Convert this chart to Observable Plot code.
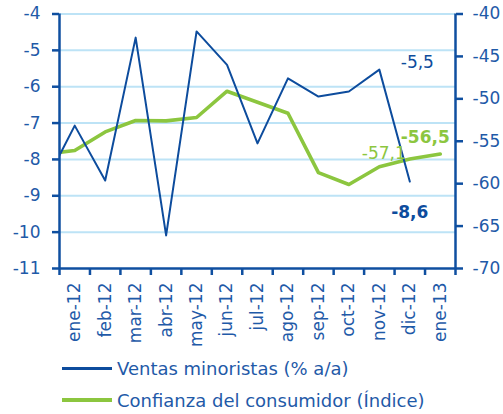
<!DOCTYPE html>
<html>
<head>
<meta charset="utf-8">
<script src="https://cdn.jsdelivr.net/npm/d3@7"></script>
<script src="https://cdn.jsdelivr.net/npm/@observablehq/plot@0.6"></script>
<style>
  html, body { margin: 0; padding: 0; background: #fff; }
  body { width: 503px; height: 414px; overflow: hidden; font-family: "DejaVu Sans", sans-serif; }
  #chart svg { display: block; }
  .legend { color: #1f5aa8; font-size: 18px; }
  .legend .row { height: 32px; display: flex; align-items: center; }
  .legend .sw { width: 50px; margin-left: 62px; margin-right: 5px; }
</style>
</head>
<body>
<div id="chart"></div>
<div class="legend" id="legend"></div>
<script>
// Categories (index -1 is the off-chart dic-11 point, clipped at the left axis)
const months = ["ene-12","feb-12","mar-12","abr-12","may-12","jun-12","jul-12","ago-12","sep-12","oct-12","nov-12","dic-12","ene-13"];
const index = [-1, 0, 1, 2, 3, 4, 5, 6, 7, 8, 9, 10, 11, 12];
// Ventas minoristas (% a/a), left axis
const ventas = [-8.7, -7.07, -8.58, -4.65, -10.09, -4.48, -5.40, -7.56, -5.77, -6.27, -6.13, -5.53, -8.61];
// Confianza del consumidor (Índice), right axis
const confianza = [-56.5, -56.1, -53.9, -52.55, -52.6, -52.2, -49.1, -50.4, -51.7, -58.7, -60.1, -58.0, -57.1, -56.5];
// Axis ticks
const leftTicks = [-11, -10, -9, -8, -7, -6, -5, -4];
const rightTicks = [-70, -65, -60, -55, -50, -45, -40];
const xDomain = [-0.5, 12.5];
const leftDomain = [-11, -4];
const rightDomain = [-70, -40];
// Data labels (i = month index)
const labelBlue = [{i: 10, v: -5.53, t: "-5,5", bold: false}, {i: 11, v: -8.61, t: "-8,6", bold: true}];
const labelGreen = [{i: 11, v: -57.1, t: "-57,1", bold: false}, {i: 12, v: -56.5, t: "-56,5", bold: true}];

const BLUE = "#0d4c9d";
const AXIS = "#0f4fa0";
const TEXT = "#1f5aa8";
const GREEN = "#8cc63f";
const GRID = "#bde3f6";

// map right-axis value to left-axis scale
const toLeft = v => leftDomain[0] + (v - rightDomain[0]) * (leftDomain[1] - leftDomain[0]) / (rightDomain[1] - rightDomain[0]);
const fromLeft = d => rightDomain[0] + (d - leftDomain[0]) * (rightDomain[1] - rightDomain[0]) / (leftDomain[1] - leftDomain[0]);

const blueData = ventas.map((v, k) => ({x: index[k], y: v}));
const greenData = confianza.map((v, k) => ({x: index[k], y: toLeft(v)}));
const bounds = d3.range(xDomain[0], xDomain[1] + 0.01, 1);
const centers = months.map((m, k) => k);

const chart = Plot.plot({
  width: 503,
  height: 352,
  marginLeft: 59,
  marginRight: 48,
  marginTop: 13.5,
  marginBottom: 84,
  style: {fontFamily: "DejaVu Sans, sans-serif", fontSize: "17px", color: TEXT, background: "#fff"},
  x: {type: "linear", domain: xDomain},
  y: {domain: leftDomain},
  marks: [
    Plot.gridY(leftTicks.filter(t => t > leftDomain[0]), {stroke: GRID, strokeOpacity: 1, strokeWidth: 2}),
    Plot.lineY(greenData, {x: "x", y: "y", stroke: GREEN, strokeWidth: 3.6, clip: true}),
    Plot.lineY(blueData, {x: "x", y: "y", stroke: BLUE, strokeWidth: 2, clip: true}),
    Plot.ruleX([xDomain[0], xDomain[1]], {stroke: AXIS, strokeWidth: 2.5}),
    Plot.ruleY([leftDomain[0]], {stroke: AXIS, strokeWidth: 2.5}),
    Plot.axisY({ticks: leftTicks, tickFormat: d => String(d), tickSize: 7, tickPadding: 12, stroke: AXIS, strokeWidth: 2.5, fill: TEXT, label: null}),
    Plot.axisY({anchor: "right", ticks: rightTicks.map(toLeft), tickFormat: d => String(Math.round(fromLeft(d))), tickSize: 7, tickPadding: 10, stroke: AXIS, strokeWidth: 2.5, fill: TEXT, label: null}),
    Plot.axisX({ticks: bounds, tickFormat: () => "", tickSize: 7, stroke: AXIS, strokeWidth: 2.5, label: null}),
    Plot.axisX({ticks: centers, tickFormat: k => months[k], tickSize: 0, tickPadding: 14, tickRotate: -90, fill: TEXT, label: null}),
    Plot.text(labelBlue.filter(d => !d.bold), {x: "i", y: "v", text: "t", fill: BLUE, dx: 38, dy: -7, fontSize: 17}),
    Plot.text(labelBlue.filter(d => d.bold), {x: "i", y: "v", text: "t", fill: BLUE, dx: 0, dy: 31, fontSize: 17, fontWeight: "bold"}),
    Plot.text(labelGreen.filter(d => !d.bold), {x: "i", y: d => toLeft(d.v), text: "t", fill: GREEN, dx: -26, dy: -6, fontSize: 17}),
    Plot.text(labelGreen.filter(d => d.bold), {x: "i", y: d => toLeft(d.v), text: "t", fill: GREEN, dx: -15, dy: -16, fontSize: 17, fontWeight: "bold"})
  ]
});
document.getElementById("chart").appendChild(chart);

const series = [
  {name: "Ventas minoristas (% a/a)", color: BLUE, w: 3},
  {name: "Confianza del consumidor (Índice)", color: GREEN, w: 4}
];
const legend = document.getElementById("legend");
for (const s of series) {
  const row = document.createElement("div");
  row.className = "row";
  const sw = document.createElement("span");
  sw.className = "sw";
  sw.style.height = s.w + "px";
  sw.style.background = s.color;
  const t = document.createElement("span");
  t.textContent = s.name;
  row.appendChild(sw);
  row.appendChild(t);
  legend.appendChild(row);
}
</script>
</body>
</html>
